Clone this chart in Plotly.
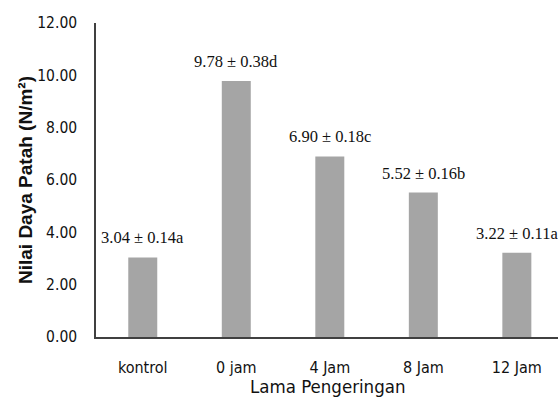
import plotly.graph_objects as go

categories = ["kontrol", "0 jam", "4 Jam", "8 Jam", "12 Jam"]
means = [3.04, 9.78, 6.90, 5.52, 3.22]
sds = [0.14, 0.38, 0.18, 0.16, 0.11]
letters = ["a", "d", "c", "b", "a"]
y_ticks = [0, 2, 4, 6, 8, 10, 12]
y_ticklabels = ["0.00", "2.00", "4.00", "6.00", "8.00", "10.00", "12.00"]

labels = [f"{m:.2f} ± {s:.2f}{l}" for m, s, l in zip(means, sds, letters)]

fig = go.Figure()
fig.add_trace(go.Bar(x=categories, y=means, marker=dict(color="#a5a5a5", line=dict(width=0)),
                     width=0.31, showlegend=False))

for c, m, lab in zip(categories, means, labels):
    fig.add_annotation(x=c, y=m, text=lab, showarrow=False, yanchor="bottom", yshift=8,
                       font=dict(family="Liberation Serif, Times New Roman, serif", size=16.5, color="#111111"))

narrow = "DejaVu Sans Condensed, Liberation Sans Narrow, Arial Narrow, Liberation Sans, Arial, sans-serif"

fig.add_annotation(xref="paper", yref="paper", x=0.5, y=0, yanchor="middle", yshift=-49,
                   text="Lama Pengeringan", showarrow=False,
                   font=dict(family=narrow, size=18.5, color="#111111"))
fig.add_annotation(xref="paper", yref="paper", x=0, y=0.5, xanchor="center", xshift=-71,
                   text="<b>Nilai Daya Patah (N/m²)</b>", textangle=-90, showarrow=False,
                   font=dict(family="Liberation Sans, Arial, sans-serif", size=19, color="#111111"))

fig.update_layout(
    width=558, height=400,
    margin=dict(l=96, r=0, t=23, b=63, autoexpand=False),
    paper_bgcolor="white", plot_bgcolor="white",
    xaxis=dict(range=[-0.5, 4.44], showline=True, linecolor="#404040", linewidth=1.5,
               ticks="", showgrid=False, ticklabelstandoff=15, automargin=False,
               tickfont=dict(family=narrow, size=16, color="#111111")),
    yaxis=dict(range=[0, 12], showline=True, linecolor="#404040", linewidth=1.5,
               ticks="", showgrid=False, zeroline=False, ticklabelstandoff=14, automargin=False,
               tickvals=y_ticks, ticktext=y_ticklabels,
               tickfont=dict(family=narrow, size=15.5, color="#111111")),
)

fig.write_html("out.html", config={"displayModeBar": False},
               post_script="document.body.style.margin='0';document.body.style.overflow='hidden';")
